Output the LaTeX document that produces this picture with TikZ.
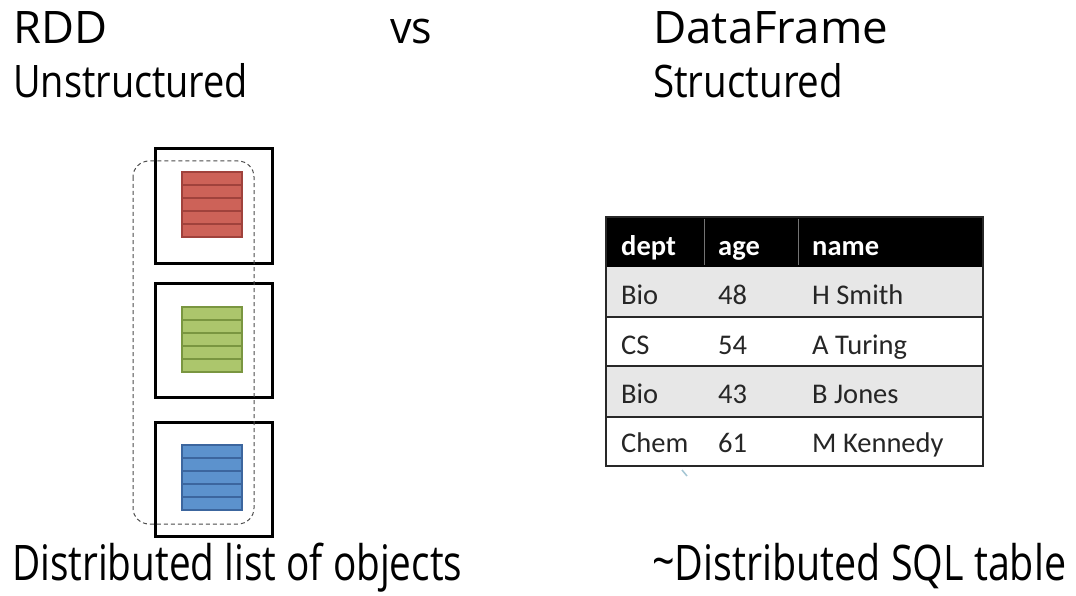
\documentclass[tikz,border=0pt]{standalone}
\usepackage{fontspec}
\setmainfont{Open Sans}
\newfontfamily\tabfont{Carlito}
\usepackage{graphicx}
\newcommand{\fitw}[2]{\resizebox{#1}{\height}{#2}}
\definecolor{redfill}{RGB}{205,98,88}
\definecolor{redline}{RGB}{160,66,60}
\definecolor{greenfill}{RGB}{172,198,108}
\definecolor{greenline}{RGB}{122,150,64}
\definecolor{bluefill}{RGB}{92,146,205}
\definecolor{blueline}{RGB}{60,102,158}
\definecolor{rowgray}{RGB}{231,231,231}
\definecolor{tabline}{RGB}{40,40,40}
\tikzset{
  hd/.style={anchor=base west, inner sep=0pt, font=\fontsize{44.8}{50}\selectfont},
  bt/.style={anchor=base west, inner sep=0pt, font=\fontsize{49}{55}\selectfont},
  partbox/.style={draw=black, line width=3pt, minimum width=117pt, minimum height=114pt, inner sep=0pt},
  cell/.style={anchor=base west, inner sep=0pt, font=\tabfont\fontsize{28.5}{30}\selectfont, text=black!85},
  hcell/.style={anchor=base west, inner sep=0pt, font=\tabfont\bfseries\fontsize{28.5}{30}\selectfont, text=white},
  stripe/.style={line width=2pt},
}
\begin{document}
\begin{tikzpicture}[x=1pt,y=-1pt]
\useasboundingbox (0,0) rectangle (1076,596);
\fill[white] (0,0) rectangle (1076,596);

% headings
\node[hd] (rdd) at (13,44) {\fitw{94pt}{RDD}};
\node[hd] (vs) at (390,44) {\fitw{42pt}{vs}};
\node[hd] (df) at (653,44) {\fitw{235pt}{DataFrame}};
\node[hd] (uns) at (13,98) {\fitw{235pt}{Unstructured}};
\node[hd] (str) at (653,98) {\fitw{190pt}{Structured}};
\node[bt] (dlo) at (12,580) {\fitw{450pt}{Distributed list of objects}};
\node[bt] (dsql) at (652,580) {\fitw{414pt}{\raisebox{2pt}{\textasciitilde}Distributed SQL table}};

% partitions
\node[partbox] (p1) at (213.5,206) {};
\node[partbox] (p2) at (213.5,340.5) {};
\node[partbox] (p3) at (213.5,479.5) {};

\foreach \i in {0,...,4} {
  \draw[stripe, fill=redfill, draw=redline] (182,172+13*\i) rectangle (242,185+13*\i);
  \draw[stripe, fill=greenfill, draw=greenline] (182,307+13*\i) rectangle (242,320+13*\i);
  \draw[stripe, fill=bluefill, draw=blueline] (182,445+13*\i) rectangle (242,458+13*\i);
}

% dashed RDD outline
\draw[black!70, line width=1pt, dash pattern=on 4pt off 3pt, rounded corners=16pt] (133,161) rectangle (254,524);

% table
\fill[black] (606,217) rectangle (983,267);
\fill[rowgray] (606,267) rectangle (983,317);
\fill[white] (606,317) rectangle (983,366);
\fill[rowgray] (606,366) rectangle (983,417);
\fill[white] (606,417) rectangle (983,466);
\draw[black!55, line width=0.8pt] (704,219) -- (704,265);
\draw[black!55, line width=0.8pt] (798,219) -- (798,265);
\foreach \yy in {317,366,417} {
  \draw[tabline, line width=1.5pt] (606,\yy) -- (983,\yy);
}
\draw[tabline, line width=1.5pt] (606,217) rectangle (983,466);

\node[hcell] (h1) at (621,255) {dept};
\node[hcell] (h2) at (718,255) {age};
\node[hcell] (h3) at (812,255) {name};

\node[cell] (a1) at (621,304) {Bio};
\node[cell] (b1) at (718,304) {48};
\node[cell] (c1) at (812,304) {H Smith};
\node[cell] (a2) at (621,354) {CS};
\node[cell] (b2) at (718,354) {54};
\node[cell] (c2) at (812,354) {A Turing};
\node[cell] (a3) at (621,403) {Bio};
\node[cell] (b3) at (718,403) {43};
\node[cell] (c3) at (812,403) {B Jones};
\node[cell] (a4) at (621,452) {Chem};
\node[cell] (b4) at (718,452) {61};
\node[cell] (c4) at (812,452) {M Kennedy};

% small mark below table
\draw[cyan!40!gray!60, line width=1.5pt] (682,470) -- (687,476);
\end{tikzpicture}
\end{document}
